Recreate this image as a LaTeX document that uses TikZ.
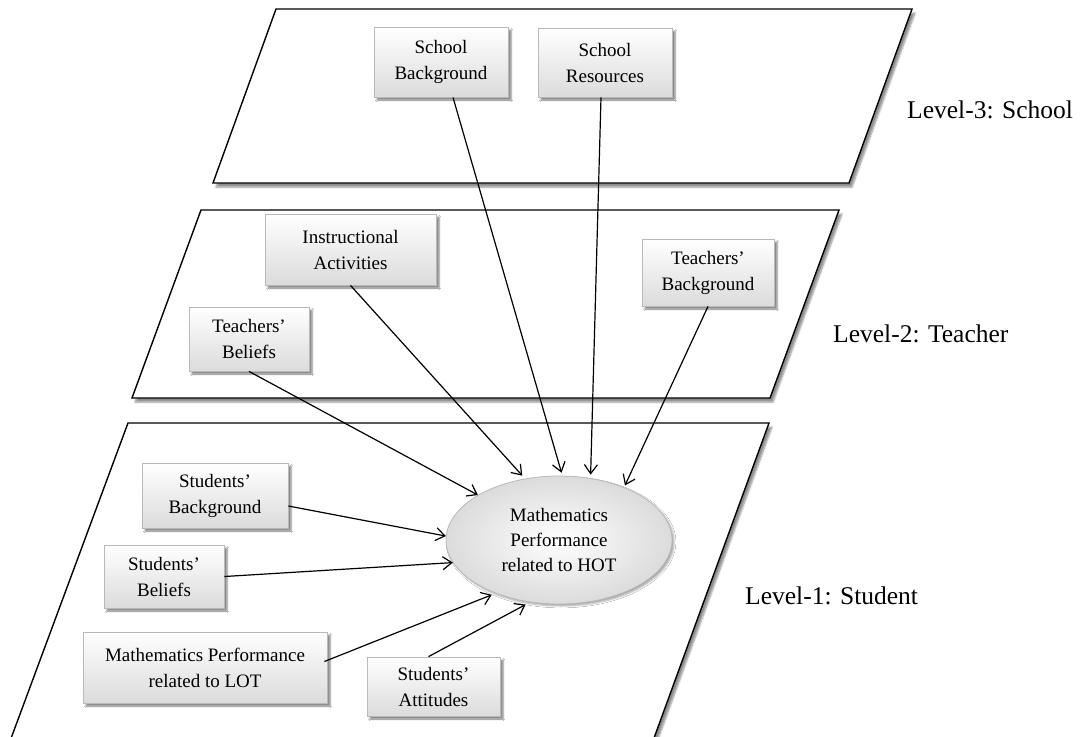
\documentclass[tikz,border=0pt]{standalone}
\usepackage{fontspec}
\setmainfont{Liberation Serif}
\usetikzlibrary{shapes.geometric,shadows.blur,arrows.meta,calc}
\begin{document}
\begin{tikzpicture}[x=1pt,y=-1pt,
  plane/.style={draw=black,line width=1.4pt,fill=white,line join=miter,
    blur shadow={shadow xshift=3pt,shadow yshift=-4pt,shadow blur steps=6,shadow opacity=45}},
  factor/.style={draw=gray!55,line width=0.8pt,top color=white,bottom color=gray!28,
    align=center,inner sep=0pt,font=\fontsize{19}{26}\selectfont,
    blur shadow={shadow xshift=3pt,shadow yshift=-3pt,shadow blur steps=5,shadow opacity=50}},
  outcome/.style={ellipse,draw=gray!55,line width=0.8pt,inner color=white,outer color=gray!28,
    align=center,inner sep=0pt,font=\fontsize{19}{25}\selectfont,
    minimum width=226pt,minimum height=128pt,
    blur shadow={shadow xshift=2pt,shadow yshift=-2pt,shadow blur steps=5,shadow opacity=35}},
  link/.style={line width=1.2pt,-{Straight Barb[length=9pt,width=13pt,line width=1.2pt]}},
  level/.style={anchor=west,inner sep=0pt,font=\fontsize{25.5}{30}\selectfont}
]
\useasboundingbox (0,0) rectangle (1083,736);

% the three planes
\draw[plane] (276,9) -- (912,9) -- (849,183) -- (213,183) -- cycle;
\draw[plane] (201,210) -- (839,210) -- (770,398) -- (132,398) -- cycle;
\draw[plane] (128,423) -- (769,423) -- (646,760) -- (3,760) -- cycle;

% level labels
\node[level] (l3) at (907,110) {Level-3: School};
\node[level] (l2) at (833,334) {Level-2: Teacher};
\node[level] (l1) at (745,596) {Level-1: Student};

% school level
\node[factor,minimum width=134pt,minimum height=70pt] (sb) at (441,62) {School\\Background};
\node[factor,minimum width=134pt,minimum height=69pt] (sr) at (605,62.5) {School\\Resources};

% teacher level
\node[factor,minimum width=171pt,minimum height=71pt] (ia) at (350.5,249.5) {Instructional\\Activities};
\node[factor,minimum width=132pt,minimum height=67pt] (tbg) at (708,272.5) {Teachers’\\Background};
\node[factor,minimum width=120pt,minimum height=64pt] (tbel) at (249,339) {Teachers’\\Beliefs};

% student level
\node[factor,minimum width=146pt,minimum height=65pt] (sbg) at (215,495.5) {Students’\\Background};
\node[factor,minimum width=120pt,minimum height=63pt] (sbel) at (164,576.5) {Students’\\Beliefs};
\node[factor,minimum width=244pt,minimum height=71pt] (lot) at (205,667.5) {Mathematics Performance\\related to LOT};
\node[factor,minimum width=133pt,minimum height=59pt] (att) at (433.5,686.5) {Students’\\Attitudes};

\node[outcome] (hot) at (559,540) {Mathematics\\Performance\\related to HOT};

% effects on the outcome
\draw[link,shorten >=3pt] ($(sb.south)+(12,0)$) -- (hot.87);
\draw[link,shorten >=3.5pt] ($(sr.south)+(-4,0)$) -- (hot.63);
\draw[link,shorten >=4pt] (ia.south) -- (hot.119);
\draw[link,shorten >=2pt] (tbg.south) -- (hot.39);
\draw[link] (tbel.south) -- (hot.151);
\draw[link] ($(sbg.east)+(0,10.5)$) -- (hot.178);
\draw[link] (sbel.east) -- (hot.192);
\draw[link,shorten >=4pt] ($(lot.east)+(-3,-6)$) -- (hot.220);
\draw[link,shorten >=5pt] ($(att.north)+(-5,0)$) -- (hot.245);
\end{tikzpicture}
\end{document}
